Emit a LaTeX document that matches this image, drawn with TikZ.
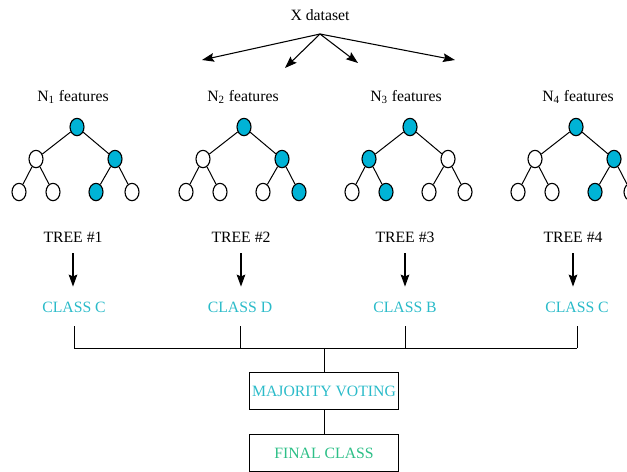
\documentclass[tikz,border=0pt]{standalone}
\usepackage{fontspec}
\setmainfont{Liberation Serif}
\usetikzlibrary{arrows.meta, shapes.geometric}
\definecolor{nodeblue}{HTML}{00B3D6}
\definecolor{classcyan}{HTML}{2BBBC9}
\definecolor{finalgreen}{HTML}{2DBF87}
\tikzset{
  treenode/.style={draw, ellipse, line width=0.85pt, minimum width=10.5pt, minimum height=13pt, inner sep=0pt},
  lbl/.style={inner sep=0pt, font=\fontsize{11.8}{13}\selectfont},
  classlbl/.style={lbl, text=classcyan},
  votebox/.style={draw, line width=0.85pt, minimum width=111.75pt, minimum height=27.75pt, inner sep=0pt, font=\fontsize{11.8}{13}\selectfont},
  arr/.style={-{Stealth[length=9pt, width=6.5pt, inset=1.5pt]}, line width=0.8pt}
}
\begin{document}
\begin{tikzpicture}[x=0.75pt, y=-0.75pt, line width=0.75pt]
    \clip (0,0) rectangle (627,471);
    \node[lbl] (data) at (320,15) {X dataset};
    \coordinate (src) at (320,34);
    \coordinate (d1) at (202,60);
    \coordinate (d2) at (285,68);
    \coordinate (d3) at (358,63);
    \coordinate (d4) at (455,60);
    \foreach \k in {1,...,4} \draw[arr] (src) -- (d\k);
    \foreach \i/\x/\ca/\cb/\caa/\cab/\cba/\cbb in {1/77/white/nodeblue/white/white/nodeblue/white,
        2/244/white/nodeblue/white/white/white/nodeblue,
        3/410/nodeblue/white/white/nodeblue/white/white,
        4/576/white/nodeblue/white/white/nodeblue/white}{
      \node[treenode, fill=nodeblue] (r\i) at (\x,127) {};
      \node[treenode, fill=\ca] (a\i) at (\x-41,159) {};
      \node[treenode, fill=\cb] (b\i) at (\x+38,159) {};
      \node[treenode, fill=\caa] (aa\i) at (\x-58,192) {};
      \node[treenode, fill=\cab] (ab\i) at (\x-24,192) {};
      \node[treenode, fill=\cba] (ba\i) at (\x+19,192) {};
      \node[treenode, fill=\cbb] (bb\i) at (\x+55,192) {};
      \draw (r\i) -- (a\i) (r\i) -- (b\i) (a\i) -- (aa\i) (a\i) -- (ab\i) (b\i) -- (ba\i) (b\i) -- (bb\i);
    }
    \foreach \i/\nx/\tx/\cx in {1/73/73/74, 2/243/241/240, 3/406/405/405, 4/578/573/577}{
      \node[lbl] (n\i) at (\nx,97) {N\textsubscript{\i} features};
      \node[lbl] (t\i) at (\tx,237) {TREE \#\i};
      \node[classlbl] (c\i) at (\cx,307) {CLASS \ifcase\i\or C\or D\or B\or C\fi};
      \draw[arr, shorten <=8pt, shorten >=11pt] (t\i.south) -- (t\i.south |- c\i.north);
    }
    \coordinate (hub) at (324,348);
    \node[votebox, text=classcyan] (vote) at (324,391) {MAJORITY VOTING};
    \node[votebox, text=finalgreen] (final) at (324,453) {FINAL CLASS};
    \foreach \i in {1,...,4} \draw[shorten <=10pt] (c\i.south) -- (c\i.south |- hub);
    \draw (c1.south |- hub) -- (c4.south |- hub);
    \draw (hub) -- (vote.north);
    \draw (vote) -- (final);
\end{tikzpicture}
\end{document}
